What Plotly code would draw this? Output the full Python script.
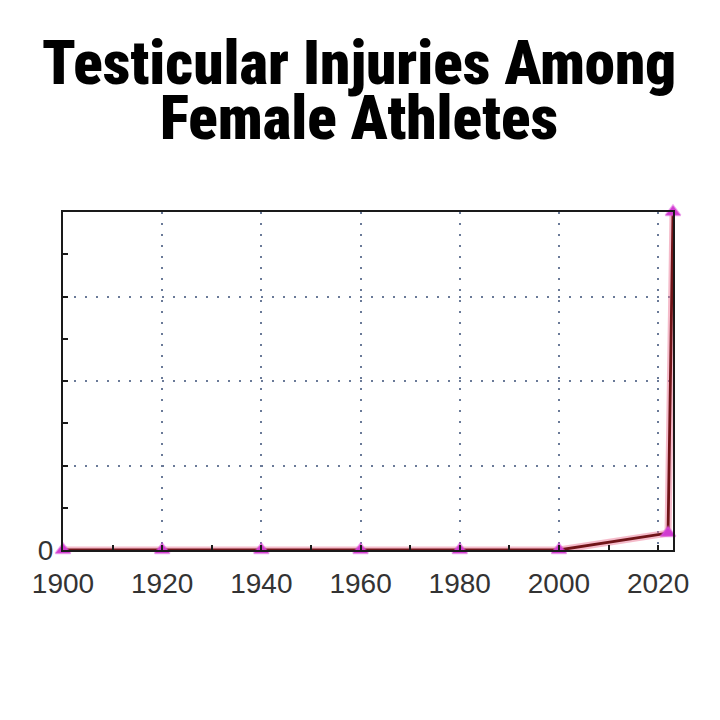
import plotly.graph_objects as go

years = [1900, 1920, 1940, 1960, 1980, 2000, 2022, 2023]
injuries = [0, 0, 0, 0, 0, 0, 0.2, 4]

x_tick_vals = [1900, 1920, 1940, 1960, 1980, 2000, 2020]
x_tick_text = ["1900", "1920", "1940", "1960", "1980", "2000", "2020"]
y_tick_vals = [0, 1, 2, 3, 4]
y_tick_text = ["0", "", "", "", ""]

title_line1 = "Testicular Injuries Among"
title_line2 = "Female Athletes"

fig = go.Figure()
fig.add_trace(go.Scatter(x=years, y=injuries, mode="lines",
                         line=dict(color="rgba(235,120,150,0.5)", width=7),
                         hoverinfo="skip", showlegend=False, cliponaxis=False))
fig.add_trace(go.Scatter(x=years, y=injuries, mode="lines+markers",
                         line=dict(color="#701418", width=2.8),
                         marker=dict(symbol="triangle-up", size=13, color="#d03cd0",
                                     line=dict(color="rgba(220,80,220,0.5)", width=2)),
                         showlegend=False, cliponaxis=False))

title_font = dict(family="Roboto Condensed, DejaVu Sans", size=61, color="black", weight=900)
# page coordinates of plot area (page has 8px body margin)
PLOT_LEFT, PLOT_RIGHT, PLOT_TOP, PLOT_BOTTOM = 63, 673, 212, 550
def paper_y(py):
    return (PLOT_BOTTOM - py) / (PLOT_BOTTOM - PLOT_TOP)
def paper_x(px):
    return (px - PLOT_LEFT) / (PLOT_RIGHT - PLOT_LEFT)

fig.add_annotation(text=title_line1, x=paper_x(359), xref="paper", xanchor="center",
                   y=paper_y(63.5), yref="paper", yanchor="middle", showarrow=False,
                   font=title_font)
fig.add_annotation(text=title_line2, x=paper_x(359), xref="paper", xanchor="center",
                   y=paper_y(118.5), yref="paper", yanchor="middle", showarrow=False,
                   font=title_font)

fig.update_layout(
    width=720, height=720,
    paper_bgcolor="white", plot_bgcolor="white",
    margin=dict(l=55, r=55, t=204, b=178, autoexpand=False),
    font=dict(family="Liberation Sans, Arial, sans-serif", color="#333333"),
)

axis_common = dict(showgrid=True, gridcolor="#6a7a98", griddash="2px,9px", gridwidth=1.6,
                   showline=True, linecolor="#1a1a1a", linewidth=2, mirror=True,
                   ticks="inside", ticklen=5, tickwidth=2, tickcolor="#1a1a1a",
                   tickfont=dict(size=28, color="#333333"),
                   zeroline=False, fixedrange=True, automargin=False)

fig.update_xaxes(range=[1900, 2023], tickvals=x_tick_vals, ticktext=x_tick_text,
                 minor=dict(dtick=10, tick0=1900, ticks="inside", ticklen=5, tickwidth=2,
                            tickcolor="#1a1a1a", showgrid=False),
                 ticklabelstandoff=7, **axis_common)
fig.update_yaxes(range=[0, 4], tickvals=y_tick_vals, ticktext=y_tick_text,
                 minor=dict(dtick=0.5, tick0=0, ticks="inside", ticklen=5, tickwidth=2,
                            tickcolor="#1a1a1a", showgrid=False),
                 ticklabelstandoff=2, **axis_common)

fig.write_html("out.html")
